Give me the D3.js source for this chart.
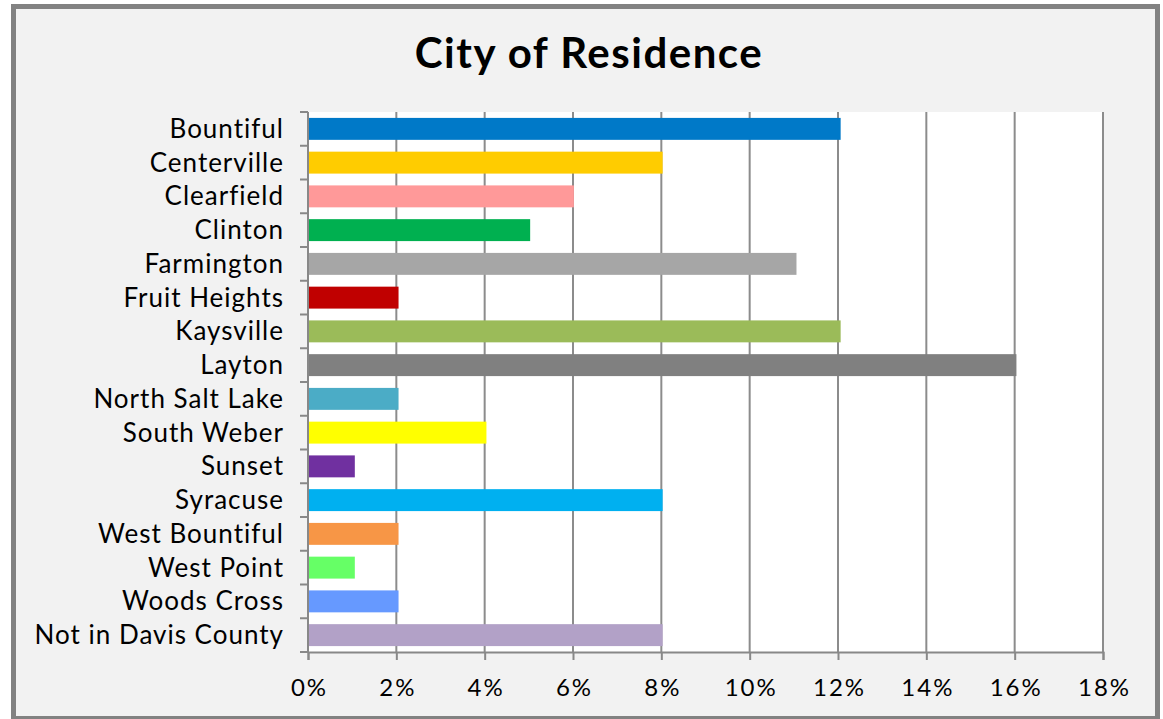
<!DOCTYPE html>
<html>
<head>
<meta charset="utf-8">
<script src="https://cdn.jsdelivr.net/npm/d3@7"></script>
<style>
  body { margin: 0; background: #fff; }
  text { font-family: "Century Gothic", "Lato", "DejaVu Sans", sans-serif; fill: #000; }
</style>
</head>
<body>
<div id="chart"></div>
<script>
// City of Residence - share of respondents (%)
const cities = ['Bountiful', 'Centerville', 'Clearfield', 'Clinton', 'Farmington', 'Fruit Heights',
    'Kaysville', 'Layton', 'North Salt Lake', 'South Weber', 'Sunset', 'Syracuse',
    'West Bountiful', 'West Point', 'Woods Cross', 'Not in Davis County']
const shares = [12.06, 8.03, 6.02, 5.03, 11.06, 2.05, 12.06, 16.04, 2.05, 4.04, 1.06, 8.03, 2.05, 1.06, 2.05, 8.03]
const colors = ['#0079c8', '#ffcc00', '#ff9999', '#00b050', '#a6a6a6', '#c00000', '#9bbb59', '#808080',
    '#4bacc6', '#ffff00', '#7030a0', '#00b0f0', '#f79646', '#66ff66', '#6699ff', '#b2a1c7']
const xTicks = [0, 2, 4, 6, 8, 10, 12, 14, 16, 18]

const width = 1163
const height = 719
const margin = {top: 112, right: 60, bottom: 67, left: 308}

let svg = d3.select('#chart').append('svg')
    .attr('width', width)
    .attr('height', height)

// outer frame
svg.append('rect')
    .attr('x', 13.5)
    .attr('y', 6.5)
    .attr('width', 1144)
    .attr('height', 712)
    .attr('fill', '#f2f2f2')
    .attr('stroke', '#828282')
    .attr('stroke-width', 5)

svg.append('text')
    .attr('x', 589)
    .attr('y', 68)
    .attr('text-anchor', 'middle')
    .style('font-size', '42px')
    .style('font-weight', 'bold')
    .style('letter-spacing', '1.5px')
    .text('City of Residence')

let x = d3.scaleLinear()
    .domain([0, 18])
    .range([margin.left, 1103])

let y = d3.scaleBand()
    .domain(cities)
    .range([margin.top, 652])
    .paddingInner(0.35)
    .paddingOuter(0.175)

// plot area
svg.append('rect')
    .attr('x', x(0))
    .attr('y', margin.top)
    .attr('width', x(18) - x(0))
    .attr('height', 652 - margin.top)
    .attr('fill', '#fff')

// vertical gridlines
svg.append('g')
    .selectAll('line')
    .data(xTicks.slice(1))
    .enter().append('line')
    .attr('x1', d => x(d))
    .attr('x2', d => x(d))
    .attr('y1', margin.top)
    .attr('y2', 652)
    .attr('stroke', '#8c8c8c')
    .attr('stroke-width', 2)

// bars
svg.append('g')
    .selectAll('rect')
    .data(cities)
    .enter().append('rect')
    .attr('x', x(0))
    .attr('y', d => y(d))
    .attr('width', (d, i) => x(shares[i]) - x(0))
    .attr('height', y.bandwidth())
    .attr('fill', (d, i) => colors[i])

// x axis
let xAxis = d3.axisBottom(x)
    .tickValues(xTicks)
    .tickSize(8)
    .tickPadding(19)
    .tickFormat(d => d + '%')

let gx = svg.append('g')
    .attr('transform', 'translate(0,652)')
    .call(xAxis)
gx.select('.domain').attr('stroke', '#888').attr('stroke-width', 2)
gx.selectAll('.tick line').attr('stroke', '#888').attr('stroke-width', 2)
gx.selectAll('text')
    .style('font-size', '24px')
    .style('letter-spacing', '2px')
    .attr('dx', '1px')
    .attr('fill', '#000')

// y axis: ticks sit on the band boundaries, labels centred on bands
let step = y.step()
let bounds = d3.range(cities.length + 1).map(i => margin.top + i * step)

svg.append('line')
    .attr('x1', x(0)).attr('x2', x(0))
    .attr('y1', margin.top).attr('y2', 652)
    .attr('stroke', '#888').attr('stroke-width', 2)

svg.append('g')
    .selectAll('line')
    .data(bounds)
    .enter().append('line')
    .attr('x1', x(0) - 8)
    .attr('x2', x(0))
    .attr('y1', d => d)
    .attr('y2', d => d)
    .attr('stroke', '#888')
    .attr('stroke-width', 2)

svg.append('g')
    .selectAll('text')
    .data(cities)
    .enter().append('text')
    .attr('x', 284)
    .attr('y', d => y(d) + y.bandwidth() / 2)
    .attr('dy', '0.35em')
    .attr('text-anchor', 'end')
    .style('font-size', '26px')
    .style('letter-spacing', '1px')
    .text(d => d)
</script>
</body>
</html>
